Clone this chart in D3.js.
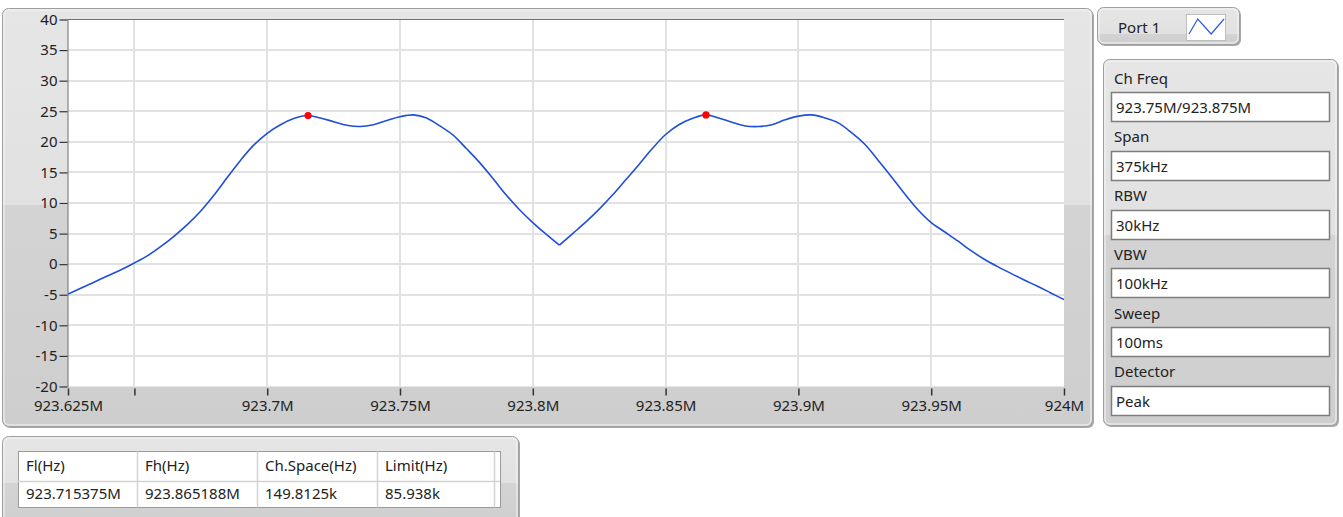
<!DOCTYPE html>
<html>
<head>
<meta charset="utf-8">
<script src="https://cdn.jsdelivr.net/npm/d3@7"></script>
<style>
  html, body { margin: 0; padding: 0; background: #ffffff; }
  svg { display: block; font-family: "Noto Sans", "Open Sans", sans-serif; }
</style>
</head>
<body>
<svg id="chart" width="1343" height="517"></svg>
<script>
// Spectrum trace: frequency (MHz) and level (dBm)
const freqMHz = [
  923.625, 923.630, 923.635, 923.640, 923.645, 923.650, 923.655, 923.660, 923.665, 923.670,
  923.675, 923.680, 923.685, 923.690, 923.695, 923.700, 923.705, 923.710, 923.715, 923.720,
  923.725, 923.730, 923.735, 923.740, 923.745, 923.750, 923.755, 923.760, 923.765, 923.770,
  923.775, 923.780, 923.785, 923.790, 923.795, 923.800, 923.805, 923.810, 923.815, 923.820,
  923.825, 923.830, 923.835, 923.840, 923.845, 923.850, 923.855, 923.860, 923.865, 923.870,
  923.875, 923.880, 923.885, 923.890, 923.895, 923.900, 923.905, 923.910, 923.915, 923.920,
  923.925, 923.930, 923.935, 923.940, 923.945, 923.950, 923.955, 923.960, 923.965, 923.970,
  923.975, 923.980, 923.985, 923.990, 923.995, 924.000
];
const levelDbm = [
  -4.9, -3.9, -2.9, -1.9, -0.9, 0.2, 1.4, 2.9, 4.6, 6.5,
  8.7, 11.3, 14.2, 17.0, 19.5, 21.4, 22.8, 23.8, 24.3, 23.9,
  23.3, 22.7, 22.5, 22.8, 23.5, 24.1, 24.4, 23.9, 22.6, 21.1,
  18.9, 16.6, 14.0, 11.3, 8.9, 6.8, 4.9, 3.1, 5.0, 6.9,
  9.0, 11.3, 13.8, 16.3, 18.9, 21.2, 22.8, 23.8, 24.4, 23.9,
  23.2, 22.6, 22.5, 22.8, 23.6, 24.2, 24.4, 23.9, 23.1, 21.5,
  19.6, 17.0, 14.3, 11.5, 8.9, 6.8, 5.3, 3.8, 2.2, 0.8,
  -0.4, -1.5, -2.6, -3.6, -4.7, -5.8
];

// Peak markers at the measured low / high channel frequencies
const markerFreqMHz = [923.715375, 923.865188];
const markerLevelDbm = [24.3, 24.4];

// Axes
const yTickValues = [-20, -15, -10, -5, 0, 5, 10, 15, 20, 25, 30, 35, 40];
const yTickLabels = ["-20", "-15", "-10", "-5", "0", "5", "10", "15", "20", "25", "30", "35", "40"];
const xTickValues = [923.625, 923.65, 923.7, 923.75, 923.8, 923.85, 923.9, 923.95, 924];
const xTickLabels = ["923.625M", "", "923.7M", "923.75M", "923.8M", "923.85M", "923.9M", "923.95M", "924M"];

// Legend
const legendName = "Port 1";

// Analyzer settings
const settingLabels = ["Ch Freq", "Span", "RBW", "VBW", "Sweep", "Detector"];
const settingValues = ["923.75M/923.875M", "375kHz", "30kHz", "100kHz", "100ms", "Peak"];

// Result table
const tableHeaders = ["Fl(Hz)", "Fh(Hz)", "Ch.Space(Hz)", "Limit(Hz)"];
const tableValues = ["923.715375M", "923.865188M", "149.8125k", "85.938k"];

// ---------------------------------------------------------------
const svg = d3.select("#chart");
const defs = svg.append("defs");
const textColor = "#222222";
const fontSize = 15;

function panelGradient(id, y0, y1, split) {
  const g = defs.append("linearGradient")
    .attr("id", id).attr("gradientUnits", "userSpaceOnUse")
    .attr("x1", 0).attr("x2", 0).attr("y1", y0).attr("y2", y1);
  g.append("stop").attr("offset", 0).attr("stop-color", "#e6e6e6");
  g.append("stop").attr("offset", split).attr("stop-color", "#e1e1e1");
  g.append("stop").attr("offset", split).attr("stop-color", "#d3d3d3");
  g.append("stop").attr("offset", 1).attr("stop-color", "#cecece");
}

function panel(x, y, w, h, id, split) {
  panelGradient(id, y, y + h, split);
  const g = svg.append("g");
  g.append("rect").attr("x", x + 1.5).attr("y", y + 1.5).attr("width", w).attr("height", h)
    .attr("rx", 6).attr("fill", "#a9a9a9");
  g.append("rect").attr("x", x).attr("y", y).attr("width", w).attr("height", h)
    .attr("rx", 6).attr("fill", `url(#${id})`).attr("stroke", "#9e9e9e").attr("stroke-width", 1);
  g.append("rect").attr("x", x + 1.5).attr("y", y + 1.5).attr("width", w - 3).attr("height", h - 3)
    .attr("rx", 5).attr("fill", "none").attr("stroke", "#f4f4f4").attr("stroke-width", 1);
  return g;
}

// ---------------- Graph panel ----------------
panel(2.5, 8.5, 1090, 418, "gChart", 0.47);

const x = d3.scaleLinear().domain([923.625, 924]).range([68, 1064]);
const y = d3.scaleLinear().domain([-20, 40]).range([386.5, 19.5]);

svg.append("rect")
  .attr("x", x(923.625)).attr("y", y(40))
  .attr("width", x(924) - x(923.625)).attr("height", y(-20) - y(40))
  .attr("fill", "#ffffff");

// grid
const grid = svg.append("g").attr("stroke", "#e2e2e2").attr("stroke-width", 2);
grid.selectAll("line.v").data(xTickValues.filter(v => v > 923.625 && v < 924)).join("line")
  .attr("class", "v")
  .attr("x1", d => Math.round(x(d))).attr("x2", d => Math.round(x(d)))
  .attr("y1", y(40)).attr("y2", y(-20));
grid.selectAll("line.h").data(yTickValues.filter(v => v > -20 && v < 40)).join("line")
  .attr("class", "h")
  .attr("x1", x(923.625)).attr("x2", x(924))
  .attr("y1", d => Math.round(y(d))).attr("y2", d => Math.round(y(d)));

// top edge of the plot area
svg.append("line")
  .attr("x1", 67.5).attr("x2", x(924)).attr("y1", 19.5).attr("y2", 19.5)
  .attr("stroke", "#6e6e6e").attr("stroke-width", 1);

// y axis
const yAxis = svg.append("g").attr("transform", "translate(67.5,0)")
  .call(d3.axisLeft(y).tickValues(yTickValues)
    .tickFormat((d, i) => yTickLabels[i]).tickSize(8).tickPadding(2).tickSizeOuter(0));
yAxis.select(".domain").attr("stroke", "#6e6e6e");
yAxis.selectAll(".tick line").attr("stroke", "#333333").attr("stroke-width", 1.2);
yAxis.selectAll("text").attr("fill", textColor)
  .style("font-size", fontSize + "px").style("font-family", '"Noto Sans", sans-serif');

// x axis
const xAxis = svg.append("g").attr("transform", "translate(0,388.5)")
  .call(d3.axisBottom(x).tickValues(xTickValues)
    .tickFormat((d, i) => xTickLabels[i]).tickSize(7).tickPadding(5).tickSizeOuter(0));
xAxis.select(".domain").remove();
xAxis.selectAll(".tick line").attr("stroke", "#333333").attr("stroke-width", 1.5);
xAxis.selectAll("text").attr("fill", textColor)
  .style("font-size", fontSize + "px").style("font-family", '"Noto Sans", sans-serif');

// trace
defs.append("clipPath").attr("id", "plotClip").append("rect")
  .attr("x", x(923.625)).attr("y", y(40))
  .attr("width", x(924) - x(923.625)).attr("height", y(-20) - y(40));

const trace = freqMHz.map((f, i) => ({ f, v: levelDbm[i] }));
const minIdx = d3.minIndex(trace.slice(20, 60), d => d.v) + 20;
const line = d3.line().x(d => x(d.f)).y(d => y(d.v)).curve(d3.curveCatmullRom.alpha(0.5));
const traceG = svg.append("g").attr("clip-path", "url(#plotClip)");
[trace.slice(0, minIdx + 1), trace.slice(minIdx)].forEach(seg => {
  traceG.append("path").attr("d", line(seg))
    .attr("fill", "none").attr("stroke", "#1f4fd8").attr("stroke-width", 1.6)
    .attr("stroke-linejoin", "round");
});

svg.append("g").selectAll("circle")
  .data(markerFreqMHz.map((f, i) => ({ f, v: markerLevelDbm[i] })))
  .join("circle")
  .attr("cx", d => x(d.f)).attr("cy", d => y(d.v)).attr("r", 3.6)
  .attr("fill", "#ff0000");

// ---------------- Legend ----------------
panel(1097.5, 7.5, 142, 37, "gLegend", 0.72);
svg.append("text").attr("x", 1118).attr("y", 32.5)
  .attr("fill", textColor).style("font-size", fontSize + "px").text(legendName);
svg.append("rect").attr("x", 1186.5).attr("y", 14.5).attr("width", 39).attr("height", 26)
  .attr("fill", "#ffffff").attr("stroke", "#bdbdbd");
const iconX = d3.scaleLinear().domain([0, 3]).range([1189, 1224]);
const iconY = d3.scaleLinear().domain([0, 1]).range([34, 19]);
svg.append("path")
  .attr("d", d3.line().x(d => iconX(d[0])).y(d => iconY(d[1]))([[0, 0], [0.75, 1], [1.9, 0], [3, 1]]))
  .attr("fill", "none").attr("stroke", "#2b5bd8").attr("stroke-width", 1.2);

// ---------------- Settings panel ----------------
panel(1103.5, 59.5, 234, 366, "gSettings", 0.48);
const rowY = d3.scaleLinear().domain([0, settingLabels.length - 1]).range([78, 78 + 5 * 58.75]);
const rows = svg.append("g").selectAll("g").data(settingLabels).join("g");
rows.append("text")
  .attr("x", 1114).attr("y", (d, i) => rowY(i) + 5.5)
  .attr("fill", textColor).style("font-size", fontSize + "px")
  .text(d => d);
rows.append("rect")
  .attr("x", 1111.5).attr("y", (d, i) => Math.round(rowY(i)) + 14.5)
  .attr("width", 218).attr("height", 29)
  .attr("fill", "#ffffff").attr("stroke", "#7d7d7d").attr("stroke-width", 1.5);
rows.append("text")
  .attr("x", 1116).attr("y", (d, i) => Math.round(rowY(i)) + 35)
  .attr("fill", textColor).style("font-size", fontSize + "px")
  .text((d, i) => settingValues[i]);

// ---------------- Result table ----------------
panel(2.5, 436.5, 516, 100, "gTable", 0.47);
const colEdges = [18, 137, 257, 377, 494, 500];
const rowEdges = [451.5, 481.5, 507.5];
const tbl = svg.append("g");
tbl.append("rect").attr("x", colEdges[0] + 0.5).attr("y", rowEdges[0])
  .attr("width", colEdges[colEdges.length - 1] - colEdges[0]).attr("height", rowEdges[2] - rowEdges[0])
  .attr("fill", "#ffffff").attr("stroke", "#9a9a9a");
tbl.selectAll("line.c").data(colEdges.slice(1, -1)).join("line").attr("class", "c")
  .attr("x1", d => d + 0.5).attr("x2", d => d + 0.5)
  .attr("y1", rowEdges[0]).attr("y2", rowEdges[2])
  .attr("stroke", "#d2d2d2").attr("stroke-width", 1.5);
tbl.append("line").attr("x1", colEdges[0]).attr("x2", colEdges[colEdges.length - 1])
  .attr("y1", rowEdges[1]).attr("y2", rowEdges[1])
  .attr("stroke", "#d2d2d2").attr("stroke-width", 1.5);
tbl.selectAll("text.h").data(tableHeaders).join("text").attr("class", "h")
  .attr("x", (d, i) => colEdges[i] + 8).attr("y", 471)
  .attr("fill", textColor).style("font-size", fontSize + "px").text(d => d);
tbl.selectAll("text.v").data(tableValues).join("text").attr("class", "v")
  .attr("x", (d, i) => colEdges[i] + 8).attr("y", 499)
  .attr("fill", textColor).style("font-size", fontSize + "px").text(d => d);
</script>
</body>
</html>
